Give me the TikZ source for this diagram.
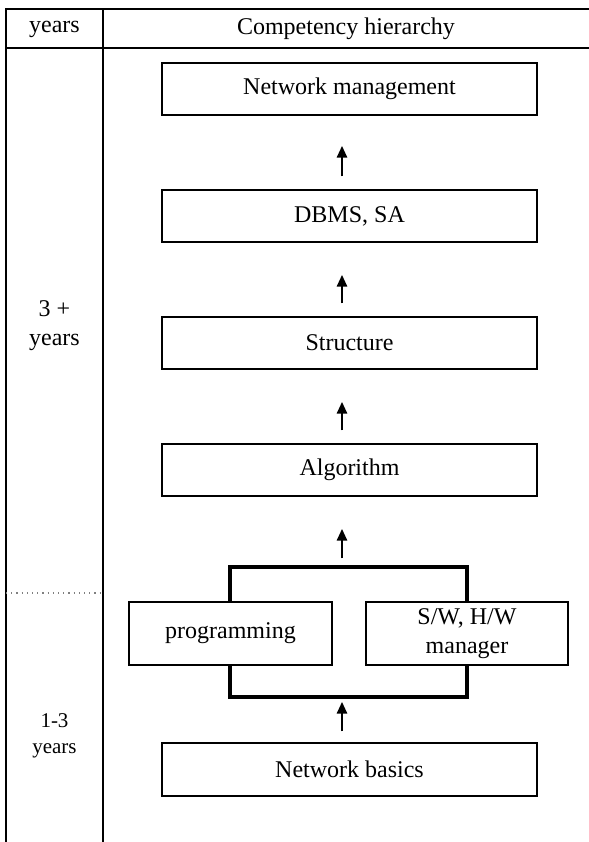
\documentclass[tikz,border=0pt]{standalone}
\usepackage{fontspec}
\setmainfont{Liberation Serif}
\usetikzlibrary{arrows.meta}
\tikzset{
  tbl/.style={line width=0.85pt},
  box/.style={draw, line width=0.7pt, fill=white, inner sep=0pt, align=center,
    font=\fontsize{12}{14.5}\selectfont},
  thickbox/.style={draw, line width=1.7pt, inner sep=0pt},
  uparrow/.style={line width=1.4pt, -{Triangle[width=5pt,length=6pt]}},
  lbl/.style={align=center, inner sep=0pt, font=\fontsize{12}{14.5}\selectfont},
}
\begin{document}
\begin{tikzpicture}[x=0.5pt, y=-0.5pt]
\useasboundingbox (0,0) rectangle (589,842);
% table
\coordinate (tl) at (6,9);
\coordinate (tr) at (589,9);
\coordinate (hl) at (6,48);
\coordinate (hr) at (589,48);
\coordinate (dt) at (103,9);
\coordinate (db) at (103,842);
\coordinate (lb) at (6,842);
\draw[tbl] (lb) -- (tl) -- (tr);
\draw[tbl] (hl) -- (hr);
\draw[tbl] (dt) -- (db);
\coordinate (dl) at (6,593);
\coordinate (dr) at (103,593);
\draw[dotted, line width=0.6pt, gray] (dl) -- (dr);
% header texts
\node[lbl] (hyears) at (54.5,29) {years};
\node[lbl] (hcomp) at (346,29) {Competency hierarchy};
\node[lbl] (y3) at (54.5,326) {3 +\\years};
\node[lbl, font=\fontsize{10.5}{13}\selectfont] (y13) at (54.5,736) {1-3\\years};
% boxes
\node[box, minimum width=187.5pt, minimum height=26pt] (nm) at (349.5,89) {Network management};
\node[box, minimum width=187.5pt, minimum height=26pt] (dbms) at (349.5,216) {DBMS, SA};
\node[box, minimum width=187.5pt, minimum height=26pt] (struct) at (349.5,343) {Structure};
\node[box, minimum width=187.5pt, minimum height=26pt] (algo) at (349.5,470) {Algorithm};
\node[thickbox, minimum width=118.5pt, minimum height=65pt] (grp) at (348.5,632) {};
\node[box, minimum width=101.5pt, minimum height=31.5pt] (prog) at (230.5,633.5) {programming};
\node[box, minimum width=101pt, minimum height=31.5pt] (sw) at (467,633.5) {S/W, H/W\\manager};
\node[box, minimum width=187.5pt, minimum height=26.5pt] (nb) at (349.5,769.5) {Network basics};
% arrows
\coordinate (ax) at (342,0);
\draw[uparrow, shorten <=6.5pt, shorten >=15pt] (dbms.north -| ax) -- (nm.south -| ax);
\draw[uparrow, shorten <=6.5pt, shorten >=16pt] (struct.north -| ax) -- (dbms.south -| ax);
\draw[uparrow, shorten <=6.5pt, shorten >=16pt] (algo.north -| ax) -- (struct.south -| ax);
\draw[uparrow, shorten <=3.5pt, shorten >=16pt] (grp.north -| ax) -- (algo.south -| ax);
\draw[uparrow, shorten <=5.5pt, shorten >=1.5pt] (nb.north -| ax) -- (grp.south -| ax);
\end{tikzpicture}
\end{document}
